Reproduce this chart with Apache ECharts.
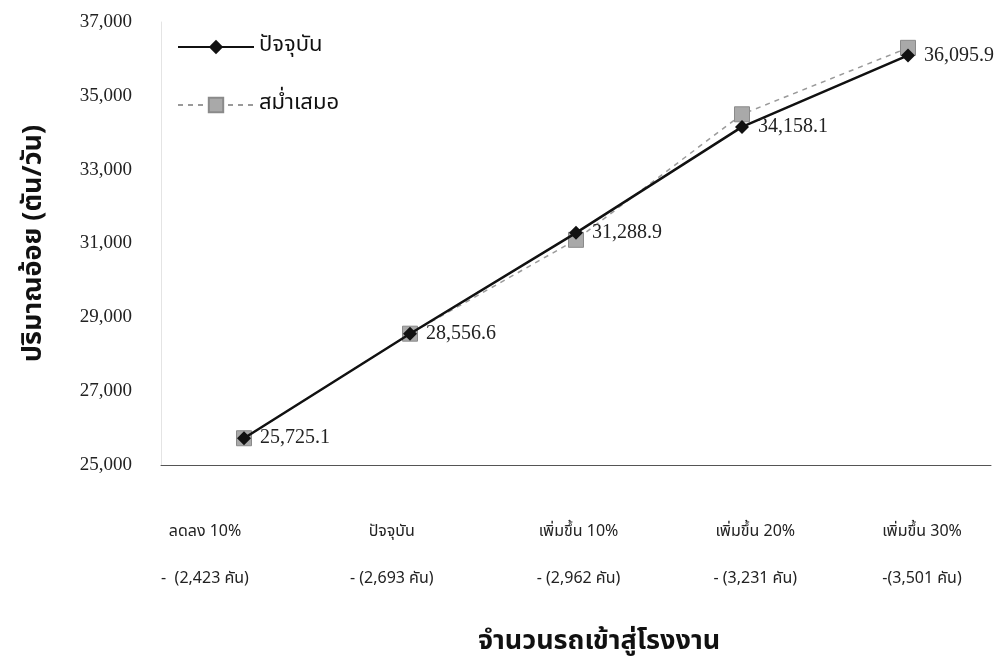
<!DOCTYPE html>
<html>
<head>
<meta charset="utf-8">
<script src="https://cdn.jsdelivr.net/npm/echarts@6/dist/echarts.min.js"></script>
<style>
  html, body { margin: 0; padding: 0; background: #ffffff; }
  #chart { width: 998px; height: 669px; }
</style>
</head>
<body>
<div id="chart"></div>
<script>
// Scenario categories and truck counts shown under each category
const scenarios = ['ลดลง 10%', 'ปัจจุบัน', 'เพิ่มขึ้น 10%', 'เพิ่มขึ้น 20%', 'เพิ่มขึ้น 30%'];
const truckCounts = ['-  (2,423 คัน)', '- (2,693 คัน)', '- (2,962 คัน)', '- (3,231 คัน)', '-(3,501 คัน)'];

// Cane throughput (ton/day) for each scenario
const currentName = 'ปัจจุบัน';
const currentValues = [25725.1, 28556.6, 31288.9, 34158.1, 36095.9];
const steadyName = 'สม่ำเสมอ';
const steadyValues = [25725, 28557, 31100, 34500, 36300];

// Y axis range
const yMin = 25000, yMax = 37000, yStep = 2000;

// horizontal nudges (px) for the caption under each category
const captionShift = [0, 8, 16, 14, 2];

const serif = '"Liberation Serif", "DejaVu Serif", serif';
const thai = '"Noto Sans Thai", "Noto Sans", "DejaVu Sans", sans-serif';

const captionRich = {};
captionShift.forEach(function (s, i) {
  const pad = [0, s < 0 ? -2 * s : 0, 0, s > 0 ? 2 * s : 0];
  captionRich['a' + i] = { fontFamily: thai, fontSize: 16, color: '#222', lineHeight: 47, padding: pad };
  captionRich['b' + i] = { fontFamily: thai, fontSize: 16, color: '#222', lineHeight: 47, padding: pad };
});

const chart = echarts.init(document.getElementById('chart'), null, { renderer: 'canvas' });

chart.setOption({
  backgroundColor: '#ffffff',
  animation: false,
  graphic: [{
    type: 'text',
    left: 478,
    top: 630,
    style: {
      text: 'จำนวนรถเข้าสู่โรงงาน',
      fontFamily: thai,
      fontSize: 27,
      fontWeight: 'bold',
      fill: '#111'
    }
  }],
  legend: {
    orient: 'vertical',
    left: 172,
    top: 31,
    itemGap: 36,
    itemWidth: 76,
    itemHeight: 18,
    textStyle: { fontFamily: thai, fontSize: 22, color: '#111' },
    data: [currentName, steadyName]
  },
  grid: [
    { left: 161, right: 7, top: 22, bottom: 204 },
    { left: 205, right: 78, top: 22, bottom: 204 }
  ],
  xAxis: [
    {
      type: 'category',
      gridIndex: 0,
      data: scenarios,
      boundaryGap: true,
      axisLine: { show: true, lineStyle: { color: '#555', width: 1 } },
      axisTick: { show: false },
      axisLabel: { show: false },
      splitLine: { show: false }
    },
    {
      // label-only axis carrying the two-line scenario captions
      type: 'category',
      gridIndex: 1,
      data: scenarios,
      boundaryGap: false,
      axisLine: { show: false },
      axisTick: { show: false },
      splitLine: { show: false },
      axisLabel: {
        margin: 44,
        interval: 0,
        formatter: function (value, idx) {
          return '{a' + idx + '|' + value + '}\n{b' + idx + '|' + truckCounts[idx] + '}';
        },
        rich: captionRich
      }
    }
  ],
  yAxis: [
    {
      type: 'value',
      gridIndex: 0,
      min: yMin,
      max: yMax,
      interval: yStep,
      name: 'ปริมาณอ้อย (ตัน/วัน)',
      nameLocation: 'middle',
      nameGap: 112,
      nameRotate: 90,
      nameTextStyle: {
        fontFamily: thai, fontSize: 27, fontWeight: 'bold', color: '#111'
      },
      axisLine: { show: true, lineStyle: { color: '#e4e4e4', width: 1 } },
      axisTick: { show: false },
      splitLine: { show: false },
      axisLabel: {
        margin: 29,
        fontFamily: serif,
        fontSize: 19,
        color: '#222',
        formatter: function (v) { return v.toLocaleString('en-US'); }
      }
    },
    {
      type: 'value',
      gridIndex: 1,
      show: false,
      min: yMin,
      max: yMax
    }
  ],
  series: [
    {
      name: steadyName,
      type: 'line',
      xAxisIndex: 0,
      yAxisIndex: 0,
      data: steadyValues,
      symbol: 'rect',
      symbolSize: 15,
      z: 2,
      lineStyle: { color: '#9a9a9a', width: 1.5, type: [5, 5] },
      itemStyle: { color: '#a9a9a9', borderColor: '#8a8a8a', borderWidth: 1 }
    },
    {
      name: currentName,
      type: 'line',
      xAxisIndex: 0,
      yAxisIndex: 0,
      data: currentValues,
      symbol: 'diamond',
      symbolSize: 14,
      z: 3,
      lineStyle: { color: '#111', width: 2.5 },
      itemStyle: { color: '#111' },
      label: {
        show: true,
        position: 'right',
        distance: 9,
        fontFamily: serif,
        fontSize: 20,
        color: '#222',
        formatter: function (p) {
          return p.value.toLocaleString('en-US', { minimumFractionDigits: 1, maximumFractionDigits: 1 });
        }
      }
    }
  ]
});
</script>
</body>
</html>
